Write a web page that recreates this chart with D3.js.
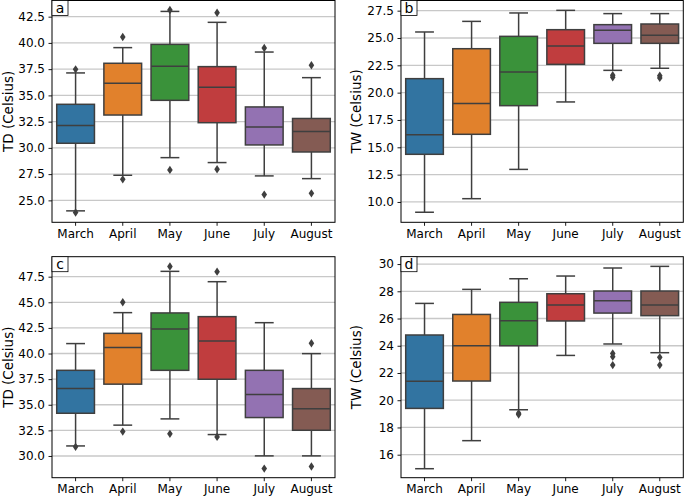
<!DOCTYPE html>
<html>
<head>
<meta charset="utf-8">
<script src="https://cdn.jsdelivr.net/npm/d3@7"></script>
<style>
  html, body { margin: 0; padding: 0; background: #fff; }
  svg { display: block; }
  text { font-family: "DejaVu Sans", sans-serif; }
</style>
</head>
<body>
<svg id="chart" width="685" height="499"></svg>
<script>
// ---------------- DATA ----------------
const months = ["March", "April", "May", "June", "July", "August"];
const colors = ["#3274a1", "#e1812c", "#3a923a", "#c03d3e", "#9372b2", "#845b53"];

// box stats per month: [whisker low, Q1, median, Q3, whisker high]
const statsA = [
  [24.0, 30.44, 32.12, 34.15, 37.14],
  [27.39, 33.13, 36.15, 38.06, 39.55],
  [29.07, 34.53, 37.77, 39.86, 43.0],
  [28.6, 32.4, 35.77, 37.74, 41.96],
  [27.33, 30.28, 31.99, 33.9, 39.13],
  [27.07, 29.61, 31.55, 32.8, 36.69]
];
const fliersA = [[37.48, 23.85], [40.56, 27.0], [43.13, 27.9], [42.88, 27.96], [39.52, 25.55], [37.87, 25.67]];

const statsB = [
  [9.06, 14.36, 16.16, 21.28, 25.55],
  [10.3, 16.19, 19.0, 24.02, 26.52],
  [12.98, 18.81, 21.89, 25.15, 27.29],
  [19.15, 22.59, 24.27, 25.76, 27.53],
  [22.04, 24.51, 25.7, 26.22, 27.23],
  [22.23, 24.51, 25.24, 26.28, 27.23]
];
const fliersB = [[], [], [], [], [21.6, 21.4], [21.55, 21.35]];

const statsC = [
  [30.98, 34.17, 36.58, 38.36, 40.97],
  [33.01, 37.01, 40.58, 41.97, 43.99],
  [33.62, 38.36, 42.4, 43.96, 48.02],
  [32.09, 37.49, 41.23, 43.6, 47.01],
  [30.01, 33.75, 35.99, 38.36, 43.01],
  [30.01, 32.51, 34.6, 36.58, 39.99]
];
const fliersC = [[30.89], [45.0, 32.38], [48.5, 32.16], [47.99, 31.86], [28.77], [41.0, 28.98]];

const statsD = [
  [14.97, 19.4, 21.39, 24.79, 27.11],
  [17.03, 21.41, 24.0, 26.3, 28.14],
  [19.3, 24.0, 25.84, 27.19, 28.92],
  [23.29, 25.82, 26.99, 27.82, 29.12],
  [24.13, 26.4, 27.31, 28.02, 29.71],
  [23.49, 26.21, 26.99, 28.02, 29.83]
];
const fliersD = [[], [], [19.05, 18.95], [], [23.44, 23.2, 22.58], [23.15, 22.58]];

const ticksA = [25.0, 27.5, 30.0, 32.5, 35.0, 37.5, 40.0, 42.5];
const ticksB = [10.0, 12.5, 15.0, 17.5, 20.0, 22.5, 25.0, 27.5];
const ticksC = [30.0, 32.5, 35.0, 37.5, 40.0, 42.5, 45.0, 47.5];
const ticksD = [16, 18, 20, 22, 24, 26, 28, 30];

const panels = [
  { label: "a", ylabel: "TD (Celsius)", stats: statsA, fliers: fliersA, ticks: ticksA, fmt: d3.format(".1f"),
    domain: [22.91, 44.04], x0: 52, x1: 335, y0: 0.5, y1: 222.3, ylabX: 12.5 },
  { label: "b", ylabel: "TW (Celsius)", stats: statsB, fliers: fliersB, ticks: ticksB, fmt: d3.format(".1f"),
    domain: [8.14, 28.43], x0: 401, x1: 683.3, y0: 0.5, y1: 222.3, ylabX: 360.5 },
  { label: "c", ylabel: "TD (Celsius)", stats: statsC, fliers: fliersC, ticks: ticksC, fmt: d3.format(".1f"),
    domain: [27.88, 49.45], x0: 52, x1: 335, y0: 256.7, y1: 477.7, ylabX: 12.5 },
  { label: "d", ylabel: "TW (Celsius)", stats: statsD, fliers: fliersD, ticks: ticksD, fmt: d3.format("d"),
    domain: [14.31, 30.54], x0: 401, x1: 683.3, y0: 256.7, y1: 477.7, ylabX: 360.5 }
];

// ---------------- DRAW ----------------
const svg = d3.select("#chart");
const lineColor = "#3f3f3f";

panels.forEach(p => {
  const g = svg.append("g");
  const x = d3.scaleBand().domain(months).range([p.x0, p.x1]).paddingInner(0).paddingOuter(0);
  const y = d3.scaleLinear().domain(p.domain).range([p.y1, p.y0]);
  const bw = x.bandwidth() * 0.8;
  const cw = bw * 0.5;

  // grid
  g.append("g").selectAll("line").data(p.ticks).join("line")
    .attr("x1", p.x0).attr("x2", p.x1)
    .attr("y1", d => y(d)).attr("y2", d => y(d))
    .attr("stroke", "#c8c8c8").attr("stroke-width", 1.3);

  // boxes
  months.forEach((m, i) => {
    const s = p.stats[i];
    const cx = x(m) + x.bandwidth() / 2;
    const bg = g.append("g");
    bg.append("line").attr("x1", cx).attr("x2", cx).attr("y1", y(s[0])).attr("y2", y(s[1]))
      .attr("stroke", lineColor).attr("stroke-width", 1.5);
    bg.append("line").attr("x1", cx).attr("x2", cx).attr("y1", y(s[3])).attr("y2", y(s[4]))
      .attr("stroke", lineColor).attr("stroke-width", 1.5);
    [s[0], s[4]].forEach(v => {
      bg.append("line").attr("x1", cx - cw / 2).attr("x2", cx + cw / 2).attr("y1", y(v)).attr("y2", y(v))
        .attr("stroke", lineColor).attr("stroke-width", 1.5);
    });
    bg.append("rect").attr("x", cx - bw / 2).attr("width", bw)
      .attr("y", y(s[3])).attr("height", y(s[1]) - y(s[3]))
      .attr("fill", colors[i]).attr("stroke", lineColor).attr("stroke-width", 1.5);
    bg.append("line").attr("x1", cx - bw / 2).attr("x2", cx + bw / 2).attr("y1", y(s[2])).attr("y2", y(s[2]))
      .attr("stroke", lineColor).attr("stroke-width", 1.5);
    bg.selectAll("path.fl").data(p.fliers[i]).join("path")
      .attr("d", d => {
        const yy = y(d);
        return `M${cx},${yy - 4.2}L${cx + 2.8},${yy}L${cx},${yy + 4.2}L${cx - 2.8},${yy}Z`;
      })
      .attr("fill", lineColor);
  });

  // axes
  const yAxis = d3.axisLeft(y).tickValues(p.ticks).tickFormat(p.fmt).tickSize(3.5).tickPadding(3.5);
  const ya = g.append("g").attr("transform", `translate(${p.x0},0)`).call(yAxis);
  const xAxis = d3.axisBottom(x).tickSize(3.5).tickPadding(3.5);
  const xa = g.append("g").attr("transform", `translate(0,${p.y1})`).call(xAxis);
  [ya, xa].forEach(a => {
    a.select(".domain").remove();
    a.selectAll("line").attr("stroke", "#000").attr("stroke-width", 0.9);
    a.selectAll("text").attr("font-size", 12).attr("fill", "#000")
      .attr("font-family", "DejaVu Sans, sans-serif");
  });

  // frame
  g.append("rect").attr("x", p.x0).attr("y", p.y0).attr("width", p.x1 - p.x0).attr("height", p.y1 - p.y0)
    .attr("fill", "none").attr("stroke", "#000").attr("stroke-width", 1);

  // y label
  g.append("text")
    .attr("transform", `translate(${p.ylabX},${(p.y0 + p.y1) / 2}) rotate(-90)`)
    .attr("text-anchor", "middle").attr("font-size", 13.5).attr("fill", "#000")
    .text(p.ylabel);

  // panel letter box
  g.append("rect").attr("x", p.x0).attr("y", p.y0).attr("width", 16).attr("height", 15)
    .attr("fill", "#fff").attr("stroke", "#000").attr("stroke-width", 0.8);
  g.append("text").attr("x", p.x0 + 8).attr("y", p.y0 + 12)
    .attr("text-anchor", "middle").attr("font-size", 14).attr("fill", "#000")
    .text(p.label);
});
</script>
</body>
</html>
